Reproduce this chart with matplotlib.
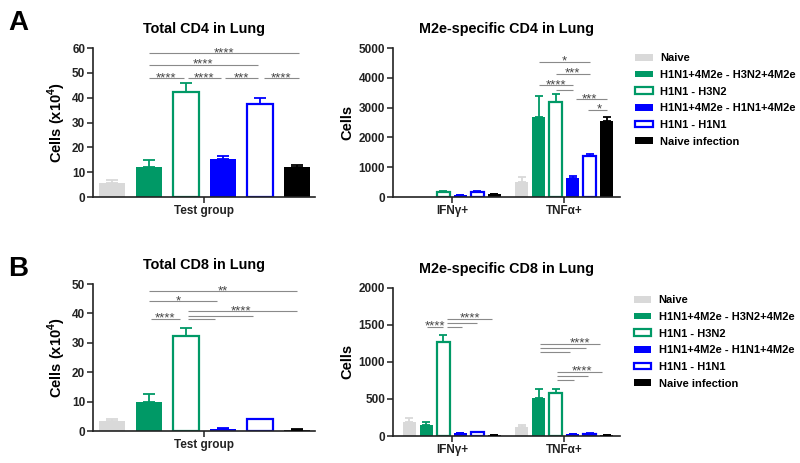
import numpy as np
import matplotlib
matplotlib.use("Agg")
import matplotlib.pyplot as plt

plt.rcParams["font.family"] = ["Liberation Sans", "DejaVu Sans"]
plt.rcParams["font.weight"] = "bold"
plt.rcParams["mathtext.fontset"] = "custom"
plt.rcParams["mathtext.rm"] = "Liberation Sans:bold"
plt.rcParams["mathtext.bf"] = "Liberation Sans:bold"

groups = ["Naive", "H1N1+4M2e - H3N2+4M2e", "H1N1 - H3N2",
          "H1N1+4M2e - H1N1+4M2e", "H1N1 - H1N1", "Naive infection"]
face = ["#d9d9d9", "#009966", "white", "#0000ff", "white", "black"]
edge = ["#d9d9d9", "#009966", "#009966", "#0000ff", "#0000ff", "black"]

cd4_total = [5.5, 12.0, 42.5, 15.5, 37.5, 12.2]
cd4_total_err = [1.5, 3.0, 3.5, 1.2, 2.5, 0.6]
cd4_ifn = [0, 0, 180, 60, 170, 90]
cd4_ifn_err = [0, 0, 20, 10, 15, 8]
cd4_tnf = [520, 2700, 3180, 640, 1380, 2550]
cd4_tnf_err = [140, 700, 270, 50, 80, 150]

cd8_total = [3.5, 10.0, 32.5, 0.8, 4.0, 0.5]
cd8_total_err = [0.7, 2.5, 2.5, 0.2, 0.2, 0.1]
cd8_ifn = [190, 150, 1270, 40, 50, 10]
cd8_ifn_err = [50, 35, 100, 5, 5, 3]
cd8_tnf = [120, 510, 580, 25, 30, 10]
cd8_tnf_err = [30, 130, 50, 5, 5, 3]

cytokines = ["IFN\u03b3+", "TNF\u03b1+"]

# significance brackets: (x1, x2, y, label, label_x)
sig_a1 = [(1, 5.05, 57.9, "****", None), (1, 3.95, 53.2, "****", None),
          (1, 1.95, 47.9, "****", None), (2.05, 2.95, 47.9, "****", None),
          (3.05, 3.95, 47.9, "***", None), (4.1, 5.05, 47.9, "****", None)]
sig_a2 = [(5.1, 8.1, 4530, "*", None), (6.1, 8.1, 4140, "***", None),
          (5.1, 7.1, 3750, "****", None), (6.1, 7.1, 3600, "", None),
          (7.3, 9.1, 3280, "***", 8.1), (8.0, 9.1, 2930, "*", 8.65)]
sig_b1 = [(1, 5.0, 47.5, "**", None), (1, 2.85, 44.1, "*", 1.8),
          (1.05, 1.85, 38.1, "****", None), (2.05, 5.0, 40.7, "****", 3.5),
          (2.05, 3.8, 39.2, "", None), (2.05, 2.8, 38.1, "", None)]
sig_b2 = [(-1.45, -0.5, 1472, "****", None), (-0.3, 2.33, 1585, "****", 1.05),
          (-0.3, 1.45, 1526, "", None), (-0.3, 0.57, 1472, "", None),
          (5.2, 8.7, 1242, "****", 7.55), (5.2, 7.9, 1183, "", None),
          (5.2, 6.95, 1129, "", None),
          (6.2, 8.85, 867, "****", 7.65), (6.2, 8.0, 813, "", None),
          (6.2, 7.15, 758, "", None)]

G = 6.6  # distance between cytokine groups, in bar widths


def style_axes(ax, ymax, step, ylabel):
    for s in ["top", "right"]:
        ax.spines[s].set_visible(False)
    for s in ["left", "bottom"]:
        ax.spines[s].set_linewidth(1.2)
        ax.spines[s].set_color("#222222")
    ax.set_ylim(0, ymax)
    ax.set_yticks(np.arange(0, ymax + 1, step))
    ax.tick_params(axis="both", length=4, width=1.1, labelsize=8.5,
                   colors="#222222", pad=1.5)
    for t in ax.get_yticklabels() + ax.get_xticklabels():
        t.set_fontweight("bold")
    ax.set_ylabel(ylabel, fontsize=10.5, fontweight="bold", labelpad=3)


def draw_bars(ax, xs, vals, errs, width, capsize):
    for i, x in enumerate(xs):
        lw = 1.6 if face[i] == "white" else 0
        ax.bar(x, vals[i], width, color=face[i], edgecolor=edge[i],
               linewidth=lw, label=groups[i], zorder=2)
        if errs[i] > 0:
            ax.errorbar(x, vals[i], yerr=[[0], [errs[i]]], color=edge[i],
                        capsize=capsize, elinewidth=1.3, capthick=1.3,
                        zorder=3)


def draw_sig(ax, sig):
    for x1, x2, y, lab, lx in sig:
        ax.plot([x1, x2], [y, y], color="#8a8a8a", lw=0.8, zorder=1,
                solid_capstyle="butt")
        if lab:
            if lx is None:
                lx = (x1 + x2) / 2
            ax.annotate(lab, (lx, y), xytext=(0, -2.0),
                        textcoords="offset points", ha="center", va="baseline",
                        fontsize=9.5, color="#444444", fontweight="normal")


fig = plt.figure(figsize=(8, 4.63), dpi=100)

# A - total CD4
ax1 = fig.add_axes([0.116, 0.5745, 0.278, 0.3215])
draw_bars(ax1, np.arange(6), cd4_total, cd4_total_err, 0.7, 4.5)
draw_sig(ax1, sig_a1)
ax1.set_xlim(-0.51, 5.49)
ax1.set_xticks([2.5])
ax1.set_xticklabels(["Test group"], fontsize=9.5)
style_axes(ax1, 60, 10, r"Cells (x10$^{4}$)")
ax1.set_title("Total CD4 in Lung", fontsize=10.4, fontweight="bold", pad=11)

# A - M2e-specific CD4
ax2 = fig.add_axes([0.491, 0.5745, 0.284, 0.3215])
xi = np.arange(6) - 2.5
draw_bars(ax2, xi, cd4_ifn, cd4_ifn_err, 0.76, 3.2)
draw_bars(ax2, xi + G, cd4_tnf, cd4_tnf_err, 0.76, 3.2)
draw_sig(ax2, sig_a2)
ax2.set_xlim(-3.47, 9.88)
ax2.set_xticks([0, G])
ax2.set_xticklabels(cytokines, fontsize=9.5)
style_axes(ax2, 5000, 1000, "Cells")
ax2.set_title("M2e-specific CD4 in Lung", fontsize=10.4, fontweight="bold", pad=11)
h, l = ax2.get_legend_handles_labels()
ax2.legend(h[:6], l[:6], loc="upper left", bbox_to_anchor=(0.787, 0.897),
           bbox_transform=fig.transFigure, frameon=False, fontsize=8,
           handlelength=1.6, handleheight=0.55, labelspacing=0.6,
           handletextpad=0.65, borderpad=0)

# B - total CD8
ax3 = fig.add_axes([0.116, 0.069, 0.278, 0.3175])
draw_bars(ax3, np.arange(6), cd8_total, cd8_total_err, 0.7, 4.5)
draw_sig(ax3, sig_b1)
ax3.set_xlim(-0.51, 5.49)
ax3.set_xticks([2.5])
ax3.set_xticklabels(["Test group"], fontsize=9.5)
style_axes(ax3, 50, 10, r"Cells (x10$^{4}$)")
ax3.set_title("Total CD8 in Lung", fontsize=10.4, fontweight="bold", pad=11)

# B - M2e-specific CD8
ax4 = fig.add_axes([0.491, 0.0583, 0.284, 0.32])
draw_bars(ax4, xi, cd8_ifn, cd8_ifn_err, 0.76, 3.2)
draw_bars(ax4, xi + G, cd8_tnf, cd8_tnf_err, 0.76, 3.2)
draw_sig(ax4, sig_b2)
ax4.set_xlim(-3.47, 9.88)
ax4.set_xticks([0, G])
ax4.set_xticklabels(cytokines, fontsize=9.5)
style_axes(ax4, 2000, 500, "Cells")
ax4.set_title("M2e-specific CD8 in Lung", fontsize=10.4, fontweight="bold", pad=11)
h, l = ax4.get_legend_handles_labels()
ax4.legend(h[:6], l[:6], loc="upper left", bbox_to_anchor=(0.785, 0.374),
           bbox_transform=fig.transFigure, frameon=False, fontsize=8,
           handlelength=1.6, handleheight=0.55, labelspacing=0.6,
           handletextpad=0.65, borderpad=0)

fig.text(0.01, 0.935, "A", fontsize=20, fontweight="bold")
fig.text(0.01, 0.403, "B", fontsize=20, fontweight="bold")

fig.savefig("out.png", dpi=100)
